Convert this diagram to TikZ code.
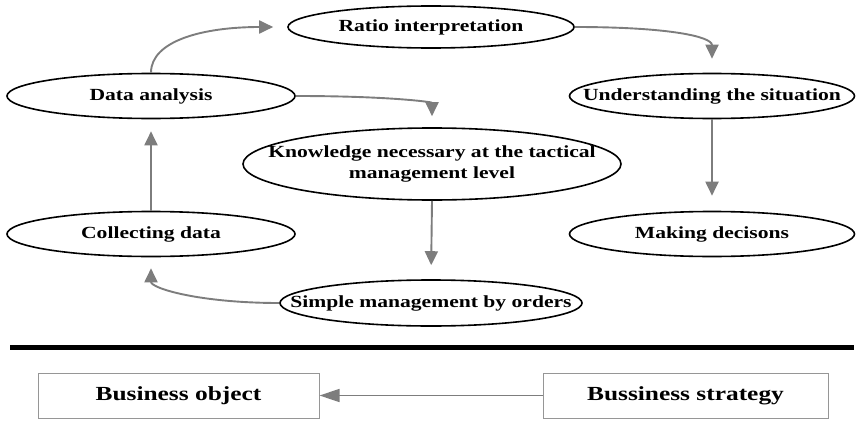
\documentclass[tikz,border=0pt]{standalone}
\usepackage{fontspec}
\setmainfont{Liberation Serif}[FakeStretch=1.27]
\usetikzlibrary{arrows.meta,shapes.geometric}
\definecolor{arrowgray}{RGB}{125,125,125}
\definecolor{boxgray}{RGB}{150,150,150}
\tikzset{
  ell/.style={draw=black, line width=1.6pt, ellipse, inner sep=0pt},
  lbl/.style={font=\bfseries\fontsize{17}{21.5}\selectfont, align=center, inner sep=0pt},
  arr/.style={draw=arrowgray, line width=1.9pt, -{Triangle[length=14pt,width=13pt]}},
  bbox/.style={draw=boxgray, line width=1pt, minimum height=45pt, inner sep=0pt,
    font=\bfseries\fontsize{20}{24}\selectfont},
}
\begin{document}
\begin{tikzpicture}[x=1pt,y=-1pt]
\useasboundingbox (0,0) rectangle (856,420);

% cycle of ellipses
\node[ell, minimum width=286pt, minimum height=42pt,
  label={[lbl]center:Ratio interpretation}] (ri) at (431,27) {};
\node[ell, minimum width=288pt, minimum height=45pt,
  label={[lbl]center:Data analysis}] (da) at (151,96) {};
\node[ell, minimum width=285pt, minimum height=45pt,
  label={[lbl]center:Understanding the situation}] (us) at (712,96) {};
\node[ell, minimum width=378pt, minimum height=72pt,
  label={[lbl]center:Knowledge necessary at the tactical\\management level}] (kn) at (432,164) {};
\node[ell, minimum width=288pt, minimum height=45pt,
  label={[lbl]center:Collecting data}] (cd) at (151,234) {};
\node[ell, minimum width=285pt, minimum height=45pt,
  label={[lbl]center:Making decisons}] (md) at (712,234) {};
\node[ell, minimum width=302pt, minimum height=46pt,
  label={[lbl]center:Simple management by orders}] (sm) at (431,303) {};

% connectors between the ellipses
\draw[arr] (da.north) to[out=90,in=180,out distance=32pt,in distance=70pt] ([xshift=-14pt]ri.west);
\draw[arr] (ri.east) to[out=0,in=90,out distance=95pt,in distance=22pt] ([yshift=14pt]us.north);
\draw[arr] (da.east) to[out=0,in=90,out distance=95pt,in distance=14pt] ([yshift=11pt]kn.north);
\draw[arr, shorten >=15pt] (us.south) -- (md.north);
\draw[arr, shorten >=14pt] (kn.south) -- (sm.north);
\draw[arr] (sm.west) to[out=180,in=270,out distance=80pt,in distance=20pt] ([yshift=-11pt]cd.south);
\draw[arr, shorten >=12pt] (cd.north) -- (da.south);

% separator
\draw[line width=5pt] (10,347) -- (854,347);

% lower boxes
\node[bbox, minimum width=281pt] (bo) at (178.5,395.5) {Business object};
\node[bbox, minimum width=285pt] (bs) at (685.5,395.5) {Bussiness strategy};
\draw[arr, line width=1.5pt, -{Triangle[length=20pt,width=13pt]}] (bs.west) -- (bo.east);
\end{tikzpicture}
\end{document}
